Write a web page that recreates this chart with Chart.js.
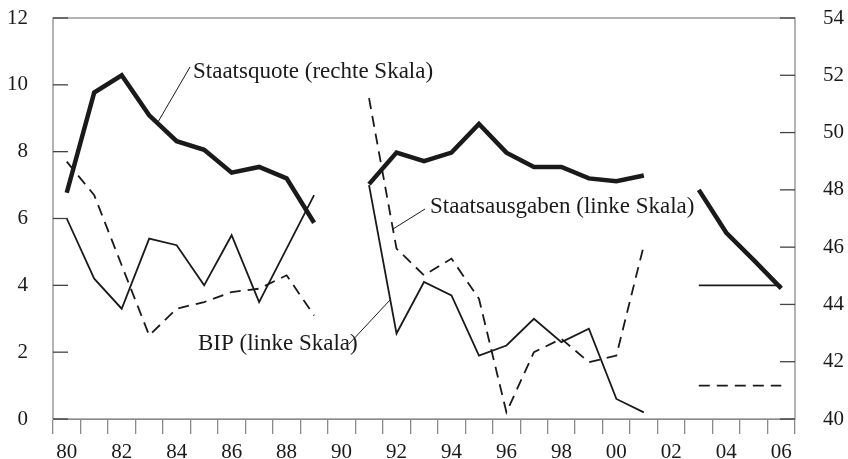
<!DOCTYPE html>
<html>
<head>
<meta charset="utf-8">
<script src="https://cdn.jsdelivr.net/npm/chart.js@4"></script>
<style>
  html,body{margin:0;padding:0;background:#fff;}
  #wrap{width:848px;height:459px;position:relative;}
</style>
</head>
<body>
<div id="wrap"><canvas id="chart"></canvas></div>
<script>
const years = ["80","81","82","83","84","85","86","87","88","89","90","91","92","93",
               "94","95","96","97","98","99","00","01","02","03","04","05","06"];
// right scale
const staatsquote = [47.9,51.4,52.0,50.6,49.7,49.4,48.6,48.8,48.4,46.85,null,48.2,49.3,49.0,
                     49.3,50.3,49.3,48.8,48.8,48.4,48.3,48.5,null,48.0,46.5,45.55,44.56];
// left scale
const staatsausgaben = [7.7,6.7,4.6,2.5,3.3,3.5,3.8,3.9,4.3,3.1,null,9.6,5.1,4.3,
                        4.8,3.6,0.2,2.0,2.4,1.7,1.9,5.2,null,1.0,1.0,1.0,1.0];
const bip = [6.0,4.2,3.3,5.4,5.2,4.0,5.5,3.5,5.1,6.7,null,7.0,2.56,4.1,
             3.7,1.9,2.2,3.0,2.3,2.7,0.6,0.2,null,4.0,4.0,4.0,4.0];
const leftTicks = [0,2,4,6,8,10,12];
const rightTicks = [40,42,44,46,48,50,52,54];

const FONT = "'Liberation Serif','DejaVu Serif',serif";
const INK = "#1a1a1a", AXIS = "#8a8a8a";

const frame = {
  id:"frame",
  afterDraw(chart) {
    const {ctx, chartArea:a, scales} = chart;
    ctx.save();
    ctx.strokeStyle = AXIS; ctx.lineWidth = 1.3;
    ctx.strokeRect(a.left, a.top, a.right-a.left, a.bottom-a.top);
    ctx.strokeStyle = "#444";
    leftTicks.forEach(v => { const y = scales.y.getPixelForValue(v);
      ctx.beginPath(); ctx.moveTo(a.left, y); ctx.lineTo(a.left+15, y); ctx.stroke(); });
    rightTicks.forEach(v => { const y = scales.y2.getPixelForValue(v);
      ctx.beginPath(); ctx.moveTo(a.right-15, y); ctx.lineTo(a.right, y); ctx.stroke(); });
    // labels with leader lines
    ctx.fillStyle = INK; ctx.strokeStyle = INK; ctx.lineWidth = 1;
    ctx.font = "23px " + FONT; ctx.textBaseline = "middle"; ctx.textAlign = "left";
    const notes = [
      {t:"Staatsquote (rechte Skala)", x:193, y:72, l:[190,67,158,122]},
      {t:"Staatsausgaben (linke Skala)", x:430, y:207, l:[425,209,393,229]},
      {t:"BIP (linke Skala)", x:198, y:344, l:[349,344,390,300]},
    ];
    notes.forEach(n => {
      ctx.fillText(n.t, n.x, n.y);
      ctx.beginPath(); ctx.moveTo(n.l[0], n.l[1]); ctx.lineTo(n.l[2], n.l[3]); ctx.stroke();
    });
    ctx.restore();
  }
};

const fitY = s => { s.width = 53; s.paddingTop = 0; s.paddingBottom = 0; };

new Chart(document.getElementById("chart"), {
  type:"line",
  data:{ labels:years, datasets:[
    { data:staatsquote, yAxisID:"y2", borderColor:INK, borderWidth:4.5, pointRadius:0, spanGaps:false, tension:0 },
    { data:staatsausgaben, yAxisID:"y", borderColor:INK, borderWidth:1.8, borderDash:[11,7], pointRadius:0, spanGaps:false, tension:0 },
    { data:bip, yAxisID:"y", borderColor:INK, borderWidth:1.8, pointRadius:0, spanGaps:false, tension:0 },
  ]},
  options:{ responsive:true, maintainAspectRatio:false, animation:false,
    layout:{ padding:{ top:18, left:0, right:0, bottom:0 } },
    plugins:{ legend:{display:false}, tooltip:{enabled:false} },
    scales:{
      x:{ offset:true, grid:{offset:true, drawOnChartArea:false, tickLength:15, color:AXIS, lineWidth:1.3},
          border:{display:true, color:AXIS},
          ticks:{ autoSkip:false, maxRotation:0, padding:6, color:INK, font:{family:FONT, size:21},
                  callback:(v,i)=> i%2===0 ? years[i] : "" },
          afterFit:s=>{ s.height = 40; s.paddingLeft = 0; s.paddingRight = 0; } },
      y:{ position:"left", min:0, max:12, ticks:{stepSize:2, padding:17, color:INK, font:{family:FONT, size:21}},
          grid:{display:false}, border:{display:false}, afterFit:fitY },
      y2:{ position:"right", min:40, max:54, ticks:{stepSize:2, padding:20, color:INK, font:{family:FONT, size:21}},
          grid:{display:false}, border:{display:false}, afterFit:fitY },
    } },
  plugins:[frame],
});
</script>
</body>
</html>
